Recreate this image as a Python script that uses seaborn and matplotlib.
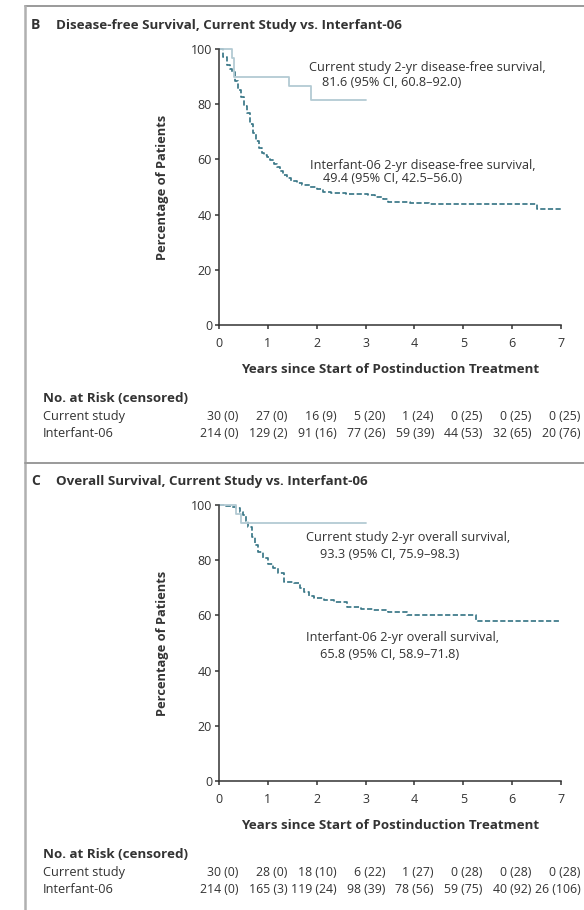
import numpy as np
import pandas as pd
import seaborn as sns
import matplotlib.pyplot as plt
from matplotlib.lines import Line2D
from matplotlib.transforms import blended_transform_factory

# 数据：生存曲线（阶梯）
dfs_cur_t = [0, 0.26, 0.31, 1.43, 1.89, 3.0]
dfs_cur_s = [100, 96.7, 90.0, 86.6, 81.6, 81.6]
dfs_int_t = [0, 0.08, 0.16, 0.22, 0.26, 0.32, 0.39, 0.45, 0.52, 0.57, 0.63, 0.70,
             0.76, 0.82, 0.87, 0.93, 0.98, 1.05, 1.12, 1.18, 1.25, 1.32, 1.39,
             1.48, 1.59, 1.70, 1.86, 2.0, 2.13, 2.3, 2.6, 3.05, 3.2, 3.35, 3.45,
             3.9, 4.3, 6.5, 7.0]
dfs_int_s = [100, 97.2, 94.2, 92.9, 91.8, 88.5, 85.1, 82.5, 79.4, 76.8, 73.0, 69.5,
             66.8, 64.0, 62.3, 61.6, 61.0, 59.8, 58.5, 57.4, 55.8, 54.3, 53.2,
             52.3, 51.4, 50.7, 49.9, 49.4, 48.3, 48.0, 47.6, 47.2, 46.5, 45.5, 44.7,
             44.3, 43.9, 41.9, 41.9]

os_cur_t = [0, 0.35, 0.45, 3.0]
os_cur_s = [100, 96.7, 93.3, 93.3]
os_int_t = [0, 0.15, 0.26, 0.35, 0.43, 0.5, 0.55, 0.6, 0.67, 0.74, 0.8, 0.9, 1.0,
            1.1, 1.2, 1.34, 1.54, 1.65, 1.74, 1.85, 1.95, 2.15, 2.35, 2.62, 2.9,
            3.15, 3.45, 3.85, 5.25, 7.0]
os_int_s = [100, 99.8, 99.4, 98.8, 97.6, 96.4, 94.2, 92.1, 88.5, 85.5, 83.1, 80.8, 78.8,
            77.0, 75.2, 72.2, 71.6, 70.0, 68.6, 67.2, 66.2, 65.6, 65.0, 63.1, 62.4,
            61.9, 61.2, 60.2, 58.1, 58.1]

years = [0, 1, 2, 3, 4, 5, 6, 7]
yticks = [0, 20, 40, 60, 80, 100]
dfs_risk_cur = ['30 (0)', '27 (0)', '16 (9)', '5 (20)', '1 (24)', '0 (25)', '0 (25)', '0 (25)']
dfs_risk_int = ['214 (0)', '129 (2)', '91 (16)', '77 (26)', '59 (39)', '44 (53)', '32 (65)', '20 (76)']
os_risk_cur = ['30 (0)', '28 (0)', '18 (10)', '6 (22)', '1 (27)', '0 (28)', '0 (28)', '0 (28)']
os_risk_int = ['214 (0)', '165 (3)', '119 (24)', '98 (39)', '78 (56)', '59 (75)', '40 (92)', '26 (106)']

c_cur = '#b3cad3'
c_int = '#3a7888'
c_txt = '#333333'

sns.set_theme(style='ticks')
plt.rcParams['font.family'] = ['Open Sans', 'DejaVu Sans']
plt.rcParams['text.color'] = c_txt

fig = plt.figure(figsize=(5.84, 9.10), dpi=100)

# 外框线
fig.add_artist(Line2D([25/584, 1], [1-6/910, 1-6/910], color='#9a9a9a', lw=1.4))
fig.add_artist(Line2D([25/584, 25/584], [0, 1-6/910], color='#b0b0b0', lw=1.8))
fig.add_artist(Line2D([25/584, 1], [1-463/910, 1-463/910], color='#9a9a9a', lw=1.4))

panels = [
    dict(letter='B', title='Disease-free Survival, Current Study vs. Interfant-06',
         top=49, cur=(dfs_cur_t, dfs_cur_s), intf=(dfs_int_t, dfs_int_s),
         risk=(dfs_risk_cur, dfs_risk_int),
         notes=[(309, 68, 'Current study 2-yr disease-free survival,'),
                (322, 83, '81.6 (95% CI, 60.8\u201392.0)'),
                (310, 165, 'Interfant-06 2-yr disease-free survival,'),
                (323, 179, '49.4 (95% CI, 42.5\u201356.0)')]),
    dict(letter='C', title='Overall Survival, Current Study vs. Interfant-06',
         top=505, cur=(os_cur_t, os_cur_s), intf=(os_int_t, os_int_s),
         risk=(os_risk_cur, os_risk_int),
         notes=[(306, 537, 'Current study 2-yr overall survival,'),
                (320, 554, '93.3 (95% CI, 75.9\u201398.3)'),
                (306, 637, 'Interfant-06 2-yr overall survival,'),
                (320, 654, '65.8 (95% CI, 58.9\u201371.8)')]),
]

for p in panels:
    top = p['top']
    ax = fig.add_axes([219/584, (910-top-276)/910, 342/584, 276/910])
    d_cur = pd.DataFrame({'t': p['cur'][0], 's': p['cur'][1]})
    d_int = pd.DataFrame({'t': p['intf'][0], 's': p['intf'][1]})
    sns.lineplot(data=d_int, x='t', y='s', ax=ax, color=c_int, lw=1.25,
                 drawstyle='steps-post', estimator=None, dashes=False,
                 linestyle=(0, (3, 1.4)), clip_on=False)
    sns.lineplot(data=d_cur, x='t', y='s', ax=ax, color=c_cur, lw=1.3,
                 drawstyle='steps-post', estimator=None, clip_on=False)
    ax.set_xlim(0, 7)
    ax.set_ylim(0, 100)
    ax.set_xticks(years)
    ax.set_yticks(yticks)
    sns.despine(ax=ax)
    for s in ['left', 'bottom']:
        ax.spines[s].set_color('#333333')
        ax.spines[s].set_linewidth(1.1)
    ax.tick_params(length=3, width=1.1, color='#333333', labelsize=9,
                   labelcolor=c_txt, pad=2)
    ax.tick_params(axis='x', pad=5.5)
    ax.set_xlabel('Years since Start of Postinduction Treatment', fontsize=9.6,
                  fontweight='bold', color=c_txt)
    ax.set_ylabel('Percentage of Patients', fontsize=9.3, fontweight='bold', color=c_txt)
    ax.xaxis.set_label_coords(0.5, -0.139)
    ax.yaxis.set_label_coords(-0.147, 0.5)

    # 标题
    fig.text(31/584, 1-(top-24)/910, p['letter'], fontsize=10, fontweight='bold', va='center')
    fig.text(56/584, 1-(top-24)/910, p['title'], fontsize=9.6, fontweight='bold', va='center')

    # 注释
    for x, y, s in p['notes']:
        fig.text(x/584, 1-y/910, s, fontsize=9.2, va='center')

    # 风险人数表
    tr = blended_transform_factory(fig.transFigure, ax.transAxes)
    trd = blended_transform_factory(ax.transData, ax.transAxes)
    ax.text(43/584, -0.266, 'No. at Risk (censored)', transform=tr, fontsize=9.6,
            fontweight='bold', va='center')
    ax.text(43/584, -0.330, 'Current study', transform=tr, fontsize=9.2, va='center')
    ax.text(43/584, -0.393, 'Interfant-06', transform=tr, fontsize=9.2, va='center')
    for i, yr in enumerate(years):
        ax.text(yr + 0.40, -0.330, p['risk'][0][i], transform=trd, fontsize=8.8,
                ha='right', va='center')
        ax.text(yr + 0.40, -0.393, p['risk'][1][i], transform=trd, fontsize=8.8,
                ha='right', va='center')

fig.savefig('out.png', dpi=100, facecolor='white')
